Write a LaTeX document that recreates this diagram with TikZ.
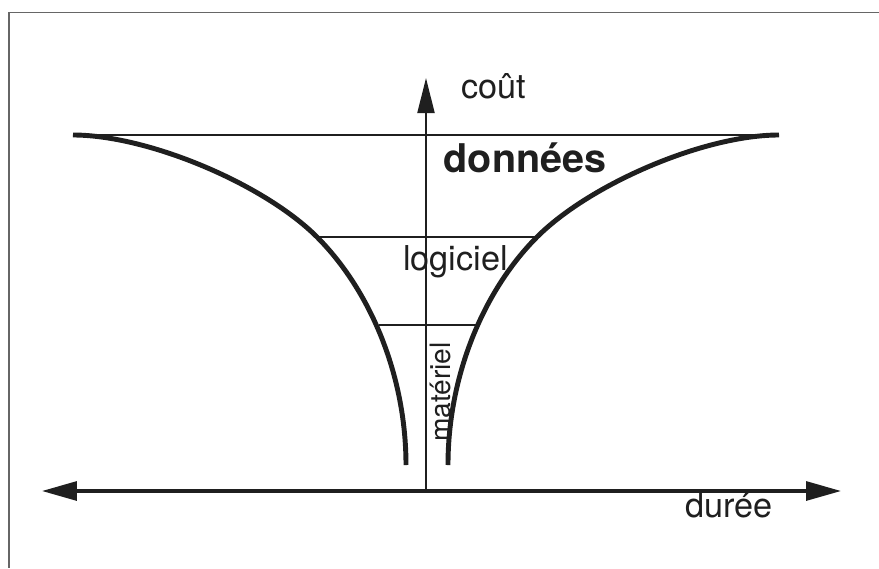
\documentclass[tikz,border=0pt]{standalone}
\usepackage{fontspec}
\setmainfont{TeX Gyre Heros}
\usepackage{tikz}
\usetikzlibrary{arrows.meta,positioning}

\begin{document}
\begin{tikzpicture}[
  ink/.style={draw=black!88},
  frameline/.style={draw=black!60, line width=0.8pt},
  axis/.style={ink, line width=1.1pt, -{Triangle[length=0.7cm, width=0.34cm]}},
  baseaxis/.style={ink, line width=1.8pt, {Triangle[length=0.7cm, width=0.38cm]}-{Triangle[length=0.7cm, width=0.38cm]}},
  level/.style={ink, line width=1.1pt},
  funnel/.style={ink, line width=2.8pt},
  label/.style={font=\fontsize{19.5}{23}\selectfont, text=black!88, inner sep=0pt},
]
  \useasboundingbox (-8.52,-1.54) rectangle (9.06,9.82);

  % frame (only top and left edges visible)
  \draw[frameline] (9.06,9.57) -- (-8.34,9.57) -- (-8.34,-1.54);

  % levels
  \draw[level] (-7.06,7.12) -- (7.06,7.12);
  \draw[level] (-2.18,5.08) -- (2.22,5.08);
  \draw[level] (-0.94,3.32) -- (1.0,3.32);

  % funnel curves
  \draw[funnel] (-7.06,7.12) .. controls (-5.56,7.12) and (-3.24,6.14) .. (-2.18,5.08)
                .. controls (-1.12,4.02) and (-0.40,2.32) .. (-0.40,0.52);
  \draw[funnel] (7.06,7.12) .. controls (5.56,7.12) and (3.28,6.14) .. (2.22,5.08)
                .. controls (1.16,4.02) and (0.44,2.32) .. (0.44,0.52);

  % axes
  \coordinate (origin) at (0,0);
  \coordinate (costtip) at (0,8.26);
  \coordinate (timeleft) at (-7.68,0);
  \coordinate (timeright) at (8.30,0);
  \draw[axis] (origin) -- (costtip);
  \draw[baseaxis] (timeleft) -- (timeright);

  % labels
  \node[label, anchor=base] (cost) at (1.36,7.86) {coût};
  \node[label, anchor=base, font=\fontsize{22.5}{26}\selectfont\bfseries] (data) at (1.98,6.38) {données};
  \node[label, anchor=base] (soft) at (0.59,4.42) {logiciel};
  \node[label, rotate=90, font=\fontsize{16}{19}\selectfont] (hard) at (0.29,1.98) {matériel};
  \node[label, anchor=base] (time) at (6.06,-0.52) {durée};
\end{tikzpicture}
\end{document}
